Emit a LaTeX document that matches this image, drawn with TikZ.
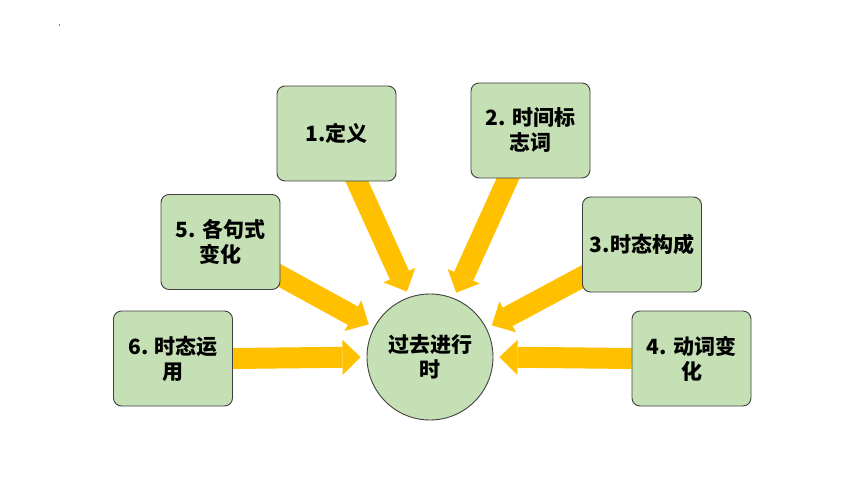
\documentclass[tikz,border=0pt]{standalone}
\usepackage{fontspec}
\newfontfamily\cjk{Noto Sans CJK SC}
\usetikzlibrary{arrows.meta,backgrounds}
\definecolor{boxfill}{HTML}{C5E0B4}
\definecolor{boxline}{HTML}{404040}
\definecolor{arrowc}{HTML}{FFC000}
\tikzset{
  topic/.style={draw=boxline, line width=0.9pt, fill=boxfill, rounded corners=8pt,
    minimum width=119pt, minimum height=95pt, inner sep=0pt, align=center,
    font=\cjk\bfseries\fontsize{21}{25}\selectfont},
  hub/.style={circle, draw=boxline, line width=0.9pt, fill=boxfill,
    minimum size=126pt, inner sep=0pt, align=center,
    font=\cjk\bfseries\fontsize{21}{25}\selectfont},
  bigarr/.style={draw=arrowc, line width=21pt, line cap=butt,
    -{Triangle[width=35pt,length=18pt,line width=0pt]},
    shorten >=6pt},
  inbox/.style={shorten <=-10pt}
}
\begin{document}
\begin{tikzpicture}[x=1pt,y=-1pt]
\useasboundingbox (0,0) rectangle (860,484);
\fill[gray] (58.5,24) rectangle (59.5,26);

\node[topic] (b1) at (336.5,133.5) {1.定义};
\node[topic] (b2) at (530.5,130.5) {2. 时间标\\志词};
\node[topic] (b5) at (220.5,242) {5. 各句式\\变化};
\node[topic] (b3) at (642,244.5) {3.时态构成};
\node[topic] (b6) at (173,358.5) {6. 时态运\\用};
\node[topic] (b4) at (691.5,358.5) {4. 动词变\\化};
\node[hub] (c) at (430,357) {过去进行\\时};

\begin{scope}[on background layer]
\fill[white] (0,0) rectangle (860,484);
\draw[bigarr,inbox] ([xshift=20.5pt]b1.south) -- (c.109);
\draw[bigarr,inbox] ([xshift=-22.5pt]b2.south) -- (c.68);
\draw[bigarr,inbox] ([yshift=-32.5pt]b3.west) -- (c.27);
\draw[bigarr,inbox] ([yshift=-34pt]b5.east) -- (c.152);
\draw[bigarr] (b4.west) -- (c.0);
\draw[bigarr] (b6.east) -- (c.180);
\end{scope}
\end{tikzpicture}
\end{document}
